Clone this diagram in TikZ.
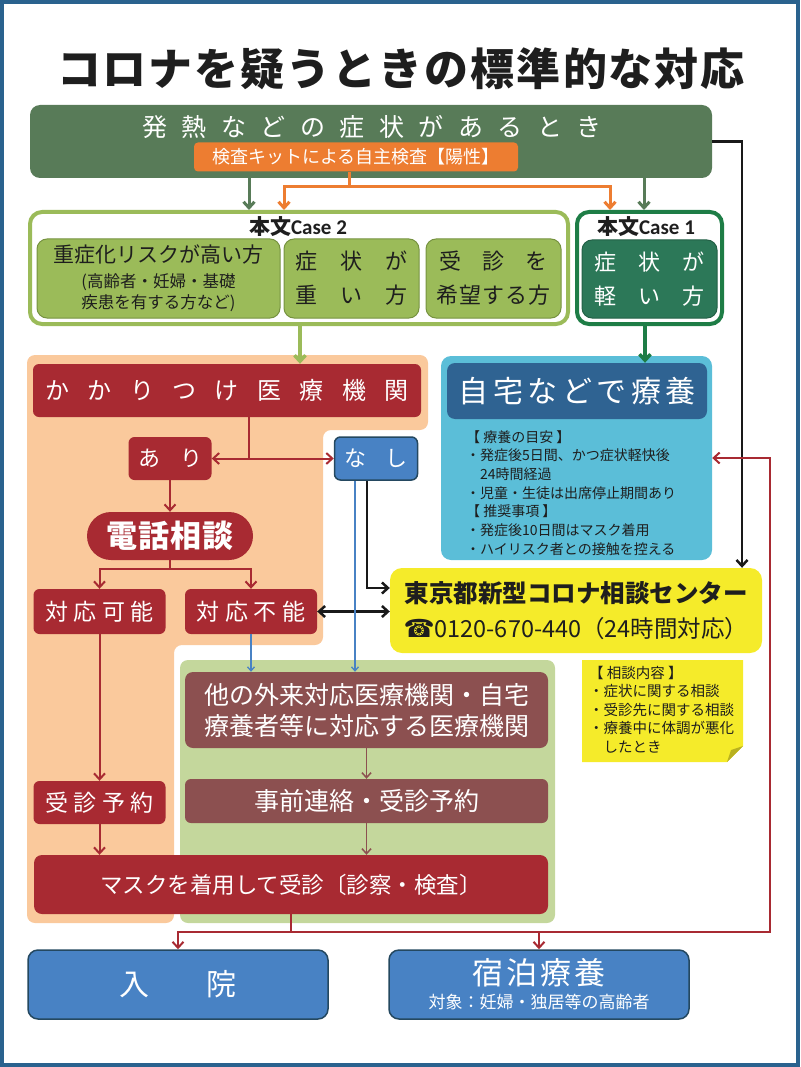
\documentclass[tikz,border=0pt]{standalone}
\usepackage{fontspec}
\setmainfont{Noto Sans CJK JP}
\newfontfamily\calfont{Carlito}
\newfontfamily\symfont{DejaVu Sans}
\usetikzlibrary{arrows.meta}

\definecolor{myframe}{RGB}{42,98,142}
\definecolor{mygreen}{RGB}{88,123,88}
\definecolor{myorange}{RGB}{237,125,49}
\definecolor{myolive}{RGB}{155,187,89}
\definecolor{myolivedark}{RGB}{118,146,64}
\definecolor{mycase}{RGB}{30,125,70}
\definecolor{myteal}{RGB}{44,120,88}
\definecolor{mypeach}{RGB}{250,201,156}
\definecolor{mylime}{RGB}{196,215,156}
\definecolor{mysky}{RGB}{91,190,216}
\definecolor{mynavy}{RGB}{47,99,146}
\definecolor{myred}{RGB}{168,42,50}
\definecolor{mybrown}{RGB}{140,80,80}
\definecolor{myblue}{RGB}{72,130,196}
\definecolor{myblueline}{RGB}{36,72,96}
\definecolor{myyellow}{RGB}{245,235,42}
\definecolor{mytext}{RGB}{30,30,30}

% letter spacing for the wide labels
\makeatletter
\newcommand{\spreadtext}[2]{%
  \def\st@first{1}%
  \@tfor\st@c:=#2\do{%
    \if1\st@first\def\st@first{0}\else\hspace{#1}\fi\st@c}}
\makeatother

\begin{document}
\begin{tikzpicture}[x=1pt, y=-1pt,
    box/.style={rounded corners=6pt, inner sep=0pt, align=center},
    redbox/.style={box, fill=myred, text=white},
    brownbox/.style={box, fill=mybrown, text=white},
    bluebox/.style={box, fill=myblue, draw=myblueline, line width=1.5pt, text=white, rounded corners=10pt},
    olivebox/.style={box, fill=myolive, draw=myolivedark, line width=1pt, text=mytext, rounded corners=10pt},
    arr/.style={-{Straight Barb[length=6pt,width=11pt]}},
    redline/.style={draw=myred, line width=2pt},
    redarrow/.style={redline, arr},
    blackarrow/.style={draw=black!90, line width=2.5pt, arr},
    bluearrow/.style={draw=myblue, line width=1.3pt, -{Straight Barb[length=4pt,width=7pt]}},
    greenarrow/.style={draw=mygreen, line width=3pt, arr},
    orangeline/.style={draw=myorange, line width=3pt},
    orangearrow/.style={orangeline, arr}]

    \useasboundingbox (0,0) rectangle (800,1067);
    \draw[myframe, line width=4pt] (2,2) rectangle (798,1065);

    % Title
    \node[font=\bfseries\fontsize{44}{50}\selectfont, text=mytext] (title) at (401,69)
        {\spreadtext{2pt}{コロナを疑うときの標準的な対応}};

    % Symptoms and self test
    \node[box, fill=mygreen, rounded corners=10pt, minimum width=682pt, minimum height=73pt] (sympt) at (371,141.5) {};
    \node[text=white, font=\fontsize{25}{30}\selectfont] (symptxt) at (372,127)
        {\spreadtext{14.5pt}{発熱などの症状があるとき}};
    \node[box, fill=myorange, rounded corners=4pt, minimum width=324pt, minimum height=29pt,
        text=white, font=\fontsize{18}{22}\selectfont] (kit) at (356,157) {検査キットによる自主検査【陽性】};

    % Case 2
    \node[box, draw=myolive, line width=4pt, rounded corners=12pt, minimum width=538pt, minimum height=112pt] (case2) at (299,268) {};
    \node[font=\bfseries\fontsize{21}{24}\selectfont, text=mytext] (case2t) at (298,227) {本文{\calfont Case 2}};
    \node[olivebox, minimum width=243pt, minimum height=79pt] (risk) at (158.5,278.5)
        {\fontsize{21}{24}\selectfont 重症化リスクが高い方\\[8pt]
         \fontsize{16.5}{20}\selectfont (高齢者・妊婦・基礎\\[3pt]
         \fontsize{16.5}{20}\selectfont 疾患を有する方など)};
    \node[olivebox, minimum width=135pt, minimum height=79pt, font=\fontsize{22}{34}\selectfont] (heavy) at (351.5,278.5)
        {\spreadtext{23pt}{症状が}\\\spreadtext{23pt}{重い方}};
    \node[olivebox, minimum width=135pt, minimum height=79pt, font=\fontsize{22}{34}\selectfont] (wish) at (493.5,278.5)
        {\spreadtext{21.5pt}{受診を}\\\spreadtext{1pt}{希望する方}};

    % Case 1
    \node[box, draw=mycase, line width=4pt, rounded corners=12pt, minimum width=145pt, minimum height=112pt] (case1) at (649.5,268) {};
    \node[font=\bfseries\fontsize{21}{24}\selectfont, text=mytext] (case1t) at (646,227) {本文{\calfont Case 1}};
    \node[box, fill=myteal, draw=myteal!80!black, line width=1pt, rounded corners=10pt, text=white,
        minimum width=135pt, minimum height=78pt, font=\fontsize{22}{34}\selectfont] (light) at (649.5,279)
        {\spreadtext{22pt}{症状が}\\\spreadtext{22pt}{軽い方}};

    % Background areas
    \fill[mypeach, rounded corners=8pt] (27,355) -- (428,355) -- (428,430) -- (323,430) -- (323,645)
        -- (174,645) -- (174,923) -- (27,923) -- cycle;
    \fill[mylime, rounded corners=8pt] (180,660) rectangle (555,923);
    \node[box, fill=mysky, rounded corners=10pt, minimum width=271pt, minimum height=204pt] (homearea) at (576.5,458) {};

    % Family doctor branch
    \node[redbox, minimum width=388pt, minimum height=53pt, font=\fontsize{24}{28}\selectfont] (kakari) at (227,390.5)
        {\spreadtext{18.4pt}{かかりつけ医療機関}};
    \node[redbox, minimum width=83pt, minimum height=43pt, font=\fontsize{22}{26}\selectfont] (ari) at (170,458.5)
        {\spreadtext{20pt}{あり}};
    \node[bluebox, rounded corners=6pt, minimum width=83pt, minimum height=43pt, font=\fontsize{22}{26}\selectfont] (nashi) at (376,458.5)
        {\spreadtext{19.5pt}{なし}};
    \node[redbox, rounded corners=24pt, minimum width=166pt, minimum height=48pt, font=\bfseries\fontsize{31}{34}\selectfont] (denwa) at (170,536)
        {\spreadtext{1pt}{電話相談}};
    \node[redbox, minimum width=132pt, minimum height=45pt, font=\fontsize{23}{26}\selectfont] (kanou) at (99.5,611.5)
        {\spreadtext{5.5pt}{対応可能}};
    \node[redbox, minimum width=132pt, minimum height=45pt, font=\fontsize{23}{26}\selectfont] (funou) at (251,611.5)
        {\spreadtext{5.5pt}{対応不能}};
    \node[redbox, minimum width=132pt, minimum height=43pt, font=\fontsize{23}{26}\selectfont] (yoyaku) at (99.5,802.5)
        {\spreadtext{5.5pt}{受診予約}};

    % Other clinics
    \node[brownbox, rounded corners=8pt, minimum width=363pt, minimum height=76pt, font=\fontsize{25}{31}\selectfont] (gaira) at (366.5,710)
        {他の外来対応医療機関・自宅\\療養者等に対応する医療機関};
    \node[brownbox, minimum width=363pt, minimum height=44pt, font=\fontsize{25}{29}\selectfont] (jizen) at (366.5,801)
        {事前連絡・受診予約};
    \node[redbox, rounded corners=8pt, minimum width=514pt, minimum height=59pt, font=\fontsize{22.5}{26}\selectfont] (mask) at (291,884.5)
        {マスクを着用して受診〔診察・検査〕};

    % Home care
    \node[box, fill=mynavy, rounded corners=8pt, minimum width=260pt, minimum height=56pt, text=white,
        font=\fontsize{30}{36}\selectfont] (jitaku) at (577,391) {\spreadtext{4.5pt}{自宅などで療養}};
    \node[anchor=north west, inner sep=0pt, align=left, text=mytext, font=\fontsize{14}{18.7}\selectfont] (careinfo) at (466,430)
        {【 療養の目安 】\\・発症後5日間、かつ症状軽快後\\\hspace{14pt}24時間経過\\・児童・生徒は出席停止期間あり\\
         【 推奨事項 】\\・発症後10日間はマスク着用\\・ハイリスク者との接触を控える};

    % Consultation centre
    \node[box, fill=myyellow, rounded corners=12pt, minimum width=372pt, minimum height=85pt, text=mytext,
        font=\fontsize{23.5}{35}\selectfont] (tokyo) at (576,610.5)
        {{\bfseries\fontsize{24.5}{35}\selectfont 東京都新型コロナ相談センター}\\{\symfont\fontsize{25}{35}\selectfont ☎}0120-670-440（24時間対応）};
    \fill[myyellow] (582,660) -- (743,660) -- (743,746) -- (727,762) -- (582,762) -- cycle;
    \fill[myyellow!75!black] (743,746) -- (727,762) -- (731,750) -- cycle;
    \node[anchor=north west, inner sep=0pt, align=left, text=mytext, font=\fontsize{14.5}{18.5}\selectfont] (notetext) at (589,666)
        {【 相談内容 】\\・症状に関する相談\\・受診先に関する相談\\・療養中に体調が悪化\\\hspace{14.5pt}したとき};

    % Outcomes
    \node[bluebox, minimum width=300pt, minimum height=69pt, font=\fontsize{30}{34}\selectfont] (nyuin) at (178,984.5)
        {入\hspace{58pt}院};
    \node[bluebox, minimum width=300pt, minimum height=69pt, font=\fontsize{17}{24}\selectfont] (shuku) at (539,984.5)
        {\fontsize{31}{34}\selectfont\spreadtext{3pt}{宿泊療養}\\\fontsize{17}{24}\selectfont 対象：妊婦・独居等の高齢者};

    % Connectors at the top
    \coordinate (xg1) at (249,0);
    \coordinate (xg2) at (644,0);
    \coordinate (obar) at (349,187);
    \coordinate (xo1) at (284,187);
    \coordinate (xo2) at (610,187);
    \draw[greenarrow] (sympt.south -| xg1) -- (case2.north -| xg1);
    \draw[greenarrow] (sympt.south -| xg2) -- (case1.north -| xg2);
    \draw[orangeline] (kit.south -| obar) -- (obar);
    \draw[orangearrow] (obar) -- (xo1) -- (case2.north -| xo1);
    \draw[orangearrow] (obar) -- (xo2) -- (case1.north -| xo2);
    \coordinate (xc2) at (300,0);
    \coordinate (xc1) at (645,0);
    \draw[draw=myolive, line width=3.5pt, arr] (case2.south -| xc2) -- (kakari.north -| xc2);
    \draw[draw=mycase, line width=3.5pt, arr] (case1.south -| xc1) -- (jitaku.north -| xc1);
    \coordinate (rblack) at (742,141.5);
    \draw[blackarrow] (sympt.east) -- (rblack) -- (tokyo.north -| rblack);

    % Connectors in the middle
    \coordinate (kbar) at (249,458.5);
    \draw[redline] (kakari.south -| kbar) -- (kbar);
    \draw[redarrow] (kbar) -- (ari.east);
    \draw[redarrow] (kbar) -- (nashi.west);
    \draw[redarrow] (ari.south) -- (denwa.north);
    \coordinate (dbar) at (170,569);
    \draw[redline] (denwa.south) -- (dbar);
    \draw[redarrow] (dbar) -| (kanou.north);
    \draw[redarrow] (dbar) -| (funou.north);
    \draw[redarrow] (kanou.south) -- (yoyaku.north);
    \draw[redarrow] (yoyaku.south) -- (mask.north -| yoyaku.south);
    \coordinate (nbend) at (367,588);
    \draw[blackarrow] (nashi.south -| nbend) -- (nbend) -- (tokyo.west |- nbend);
    \draw[blackarrow, {Straight Barb[length=6pt,width=11pt]}-{Straight Barb[length=6pt,width=11pt]}] (funou.east) -- (tokyo.west |- funou.east);
    \coordinate (xb) at (355,0);
    \draw[bluearrow] (nashi.south -| xb) -- (gaira.north -| xb);
    \draw[bluearrow] (funou.south) -- (gaira.north -| funou.south);
    \draw[draw=mybrown, line width=1.5pt, -{Straight Barb[length=5pt,width=9pt]}] (gaira.south) -- (jizen.north);
    \draw[draw=mybrown, line width=1.5pt, -{Straight Barb[length=5pt,width=9pt]}] (jizen.south) -- (mask.north -| jizen.south);

    % Connectors at the bottom
    \coordinate (rbar) at (291,932);
    \coordinate (rcorner) at (770,932);
    \draw[redline] (mask.south) -- (rbar);
    \draw[redarrow] (rbar) -| (nyuin.north);
    \draw[redarrow] (rbar) -| (shuku.north);
    \draw[redarrow] (rbar) -- (rcorner) |- (homearea.east);
\end{tikzpicture}
\end{document}
